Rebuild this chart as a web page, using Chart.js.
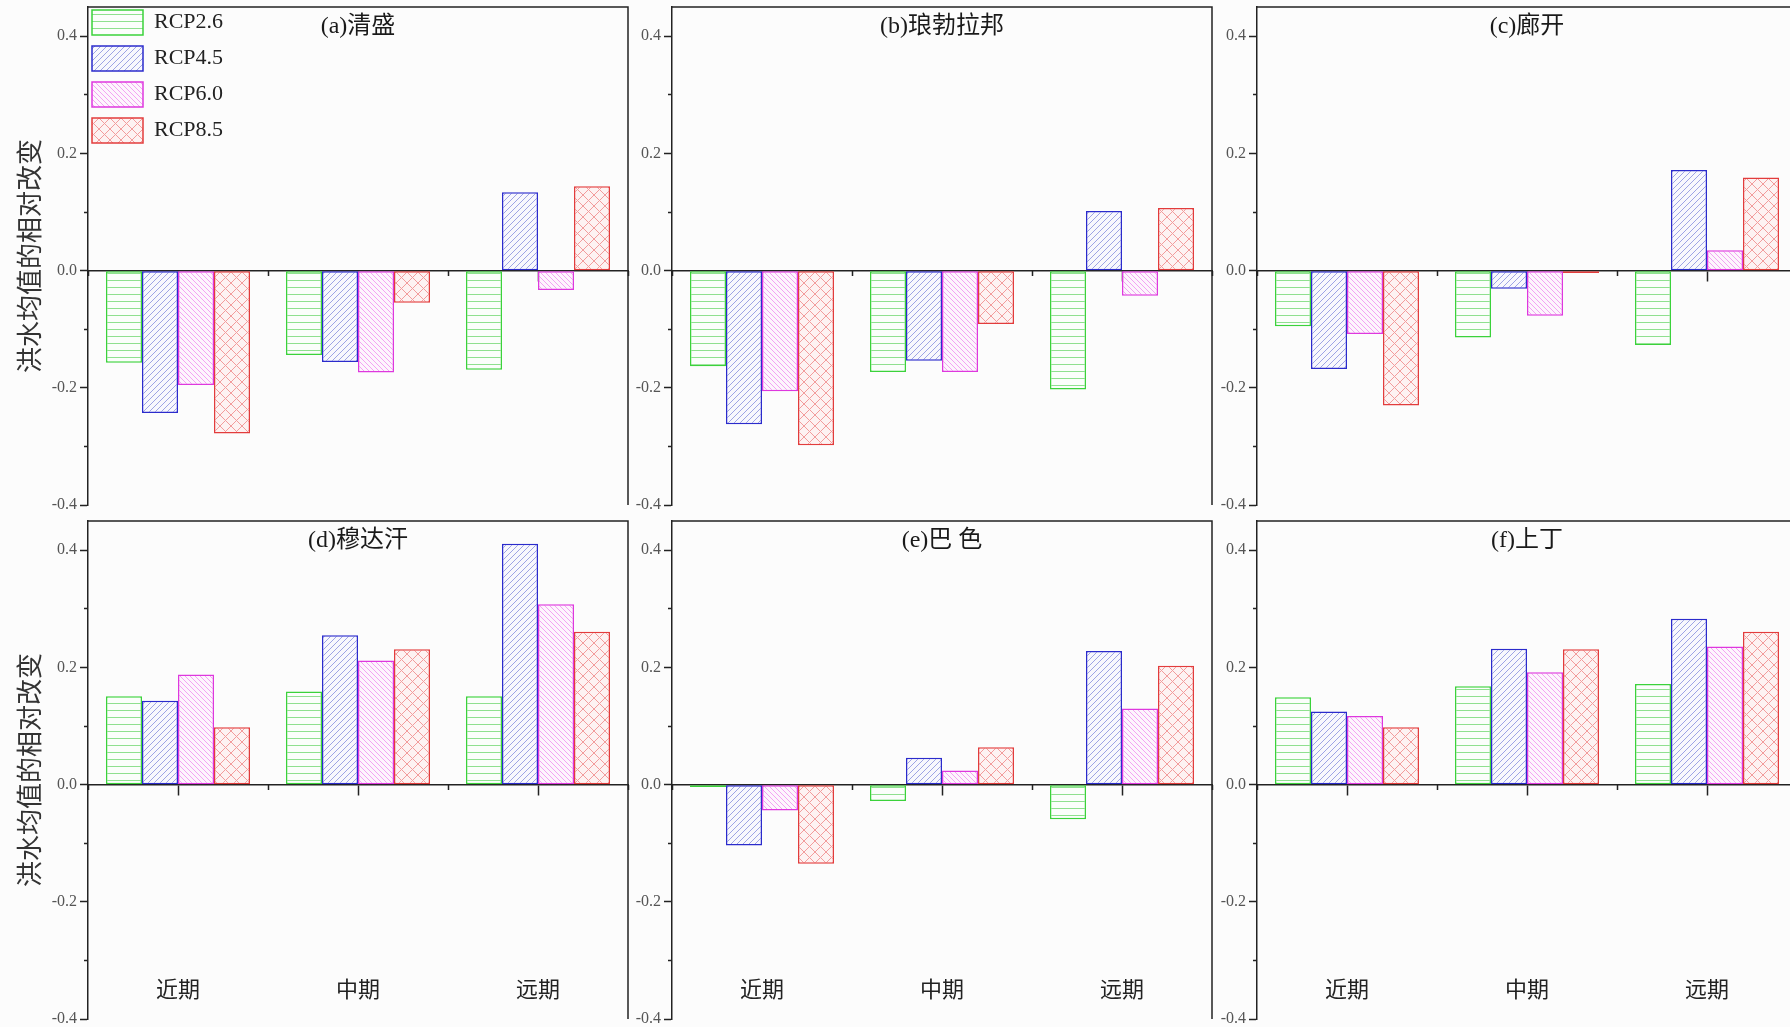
<!DOCTYPE html>
<html>
<head>
<meta charset="utf-8">
<script src="https://cdn.jsdelivr.net/npm/chart.js@4.4.1/dist/chart.umd.min.js"></script>
<style>
html,body{margin:0;padding:0;background:#fcfcfc;overflow:hidden;width:1790px;height:1027px;position:relative;}
canvas{position:absolute;}
</style>
</head>
<body>
<script>
// ---------- data ----------
const CATEGORIES = ['近期', '中期', '远期'];
const SERIES_NAMES = ['RCP2.6', 'RCP4.5', 'RCP6.0', 'RCP8.5'];
const PANEL_TITLES = ['(a)清盛', '(b)琅勃拉邦', '(c)廊开', '(d)穆达汗', '(e)巴 色', '(f)上丁'];
const Y_TITLE = '洪水均值的相对改变';
const Y_MAJOR_TICKS = [-0.4, -0.2, 0, 0.2, 0.4];
const Y_MINOR_TICKS = [-0.3, -0.1, 0.1, 0.3];
const Y_MIN = -0.4;
const Y_MAX = 0.45;
const CATEGORY_LABEL_LEVEL = -0.32;

// rows: RCP2.6, RCP4.5, RCP6.0, RCP8.5 ; columns: 近期, 中期, 远期
const QINGSHENG = [
  [-0.157, -0.144, -0.169],
  [-0.243, -0.156, 0.134],
  [-0.195, -0.174, -0.033],
  [-0.278, -0.055, 0.144]
];
const LUANGPRABANG = [
  [-0.163, -0.173, -0.203],
  [-0.262, -0.154, 0.102],
  [-0.206, -0.173, -0.043],
  [-0.298, -0.091, 0.107]
];
const NONGKHAI = [
  [-0.095, -0.114, -0.127],
  [-0.168, -0.031, 0.172],
  [-0.108, -0.077, 0.035],
  [-0.230, -0.004, 0.159]
];
const MUKDAHAN = [
  [0.151, 0.159, 0.151],
  [0.143, 0.255, 0.411],
  [0.188, 0.212, 0.308],
  [0.098, 0.231, 0.261]
];
const PAKSE = [
  [-0.004, -0.028, -0.059],
  [-0.104, 0.046, 0.228],
  [-0.044, 0.024, 0.130],
  [-0.135, 0.064, 0.203]
];
const STUNGTRENG = [
  [0.149, 0.168, 0.172],
  [0.125, 0.232, 0.283],
  [0.117, 0.192, 0.236],
  [0.098, 0.231, 0.261]
];
const PANEL_DATA = [QINGSHENG, LUANGPRABANG, NONGKHAI, MUKDAHAN, PAKSE, STUNGTRENG];

// ---------- styles / layout ----------
const BORDER_COLORS = ['#3bd23b', '#2b2bcc', '#de38de', '#e23c3c'];
const HATCH_COLORS = ['#8fe08f', '#9ea4e4', '#f2a4f2', '#f29c9c'];
const HATCH_BG = ['#fbfefb', '#f8f8fd', '#fdf5fd', '#fdf2f2'];
const HATCH_KIND = ['h', 'fwd', 'back', 'x'];
const HATCH_SIZE = [7, 6, 5, 11];
const AXIS_COLOR = '#222222';
const PLOT_LEFT = [88, 672, 1257];
const PLOT_TOP = [7, 521];
const PLOT_W = 540;
const PLOT_H = 498;
const AXIS_W = 88;
const PAD = 10;
const CJK = "'Noto Sans CJK SC'";

function hatch(kind, color, bg, size) {
  const c = document.createElement('canvas');
  c.width = size; c.height = size;
  const g = c.getContext('2d');
  g.fillStyle = bg; g.fillRect(0, 0, size, size);
  g.strokeStyle = color; g.lineWidth = 1;
  g.beginPath();
  if (kind === 'h') { g.moveTo(0, size / 2); g.lineTo(size, size / 2); }
  if (kind === 'fwd' || kind === 'x') {
    g.moveTo(-1, size + 1); g.lineTo(size + 1, -1);
    g.moveTo(-1, 1); g.lineTo(1, -1);
    g.moveTo(size - 1, size + 1); g.lineTo(size + 1, size - 1);
  }
  if (kind === 'back' || kind === 'x') {
    g.moveTo(-1, -1); g.lineTo(size + 1, size + 1);
    g.moveTo(size - 1, -1); g.lineTo(size + 1, 1);
    g.moveTo(-1, size - 1); g.lineTo(1, size + 1);
  }
  g.stroke();
  return g.createPattern(c, 'repeat');
}

const framePlugin = {
  id: 'frame',
  afterDraw(chart) {
    const {ctx, chartArea: a} = chart;
    ctx.save();
    ctx.strokeStyle = AXIS_COLOR; ctx.lineWidth = 1.5;
    ctx.beginPath();
    ctx.moveTo(a.left, a.top); ctx.lineTo(a.right, a.top); ctx.lineTo(a.right, a.bottom);
    ctx.stroke();
    ctx.restore();
  }
};
const panelTitlePlugin = {
  id: 'panelTitle',
  afterDraw(chart, args, opts) {
    const {ctx, chartArea: a} = chart;
    ctx.save();
    ctx.font = "24px 'Liberation Serif', " + CJK;
    ctx.fillStyle = '#1a1a1a';
    ctx.textAlign = 'center';
    ctx.textBaseline = 'middle';
    ctx.fillText(opts.text, (a.left + a.right) / 2, a.top + 20);
    ctx.restore();
  }
};
const legendShiftPlugin = {
  id: 'legendShift',
  afterLayout(chart, args, opts) {
    const lg = chart.legend;
    if (lg && lg.options && lg.options.display) {
      lg.left += opts.dx || 0;
      lg.top += opts.dy || 0;
    }
  }
};

for (let p = 0; p < 6; p++) {
  const row = Math.floor(p / 3), col = p % 3;
  const canvas = document.createElement('canvas');
  canvas.width = AXIS_W + PLOT_W + PAD;
  canvas.height = PLOT_H + 2 * PAD;
  canvas.style.left = (PLOT_LEFT[col] - AXIS_W) + 'px';
  canvas.style.top = (PLOT_TOP[row] - PAD) + 'px';
  document.body.appendChild(canvas);

  const datasets = SERIES_NAMES.map((name, i) => ({
    label: name,
    data: PANEL_DATA[p][i],
    backgroundColor: hatch(HATCH_KIND[i], HATCH_COLORS[i], HATCH_BG[i], HATCH_SIZE[i]),
    borderColor: BORDER_COLORS[i],
    borderWidth: 1.5,
    borderSkipped: false,
    barPercentage: 1.0,
    categoryPercentage: 0.8
  }));

  new Chart(canvas, {
    type: 'bar',
    data: {labels: CATEGORIES, datasets},
    plugins: [framePlugin, panelTitlePlugin, legendShiftPlugin],
    options: {
      responsive: false,
      animation: false,
      devicePixelRatio: 1,
      layout: {padding: {left: 0, top: PAD, right: PAD, bottom: PAD}},
      plugins: {
        tooltip: {enabled: false},
        panelTitle: {text: PANEL_TITLES[p]},
        legendShift: {dx: -7, dy: 2},
        legend: p === 0 ? {
          display: true,
          position: 'chartArea',
          align: 'start',
          labels: {
            boxWidth: 51, boxHeight: 25, padding: 11, color: '#222',
            font: {family: 'Liberation Serif', size: 22}
          }
        } : {display: false}
      },
      scales: {
        x: {
          type: 'category', axis: 'x', position: {y: 0}, offset: true, z: 1,
          grid: {offset: false, drawOnChartArea: false, drawTicks: true, tickLength: 10, tickColor: AXIS_COLOR, tickWidth: 1.5},
          border: {display: true, color: AXIS_COLOR, width: 1.5},
          ticks: {display: false}
        },
        x2: {
          type: 'category', axis: 'x', position: {y: 0}, offset: true, z: 1,
          grid: {offset: true, drawOnChartArea: false, drawTicks: true, tickLength: 5, tickColor: AXIS_COLOR, tickWidth: 1.5},
          border: {display: false},
          ticks: {display: false}
        },
        xLabels: {
          type: 'category', axis: 'x', position: {y: CATEGORY_LABEL_LEVEL}, offset: true,
          grid: {display: false, drawOnChartArea: false, drawTicks: false},
          border: {display: false},
          ticks: {display: row === 1, padding: 3, color: '#222', maxRotation: 0, autoSkip: false,
                  font: {family: 'Noto Sans CJK SC', size: 22}}
        },
        y: {
          type: 'linear', axis: 'y', position: 'left', min: Y_MIN, max: Y_MAX,
          afterBuildTicks: s => { s.ticks = Y_MAJOR_TICKS.map(v => ({value: v})); },
          afterFit: s => { s.width = AXIS_W; },
          grid: {drawOnChartArea: false, drawTicks: true, tickLength: 8, tickColor: AXIS_COLOR, tickWidth: 1.5},
          border: {display: true, color: AXIS_COLOR, width: 1.5},
          ticks: {padding: 3, color: '#555', font: {family: 'Liberation Serif', size: 16, lineHeight: 0.8},
                  callback: v => Number(v).toFixed(1)},
          title: col === 0 ? {
            display: true, text: Y_TITLE, color: '#333',
            font: {family: 'Noto Sans CJK SC', size: 26, lineHeight: 1.2},
            padding: {top: 14, bottom: 0}
          } : {display: false}
        },
        y2: {
          type: 'linear', axis: 'y', position: {x: -0.5}, min: Y_MIN, max: Y_MAX,
          afterBuildTicks: s => { s.ticks = Y_MINOR_TICKS.map(v => ({value: v})); },
          grid: {drawOnChartArea: false, drawTicks: true, tickLength: 4, tickColor: AXIS_COLOR, tickWidth: 1.5},
          border: {display: false},
          ticks: {display: false}
        }
      }
    }
  });
}
</script>
</body>
</html>
